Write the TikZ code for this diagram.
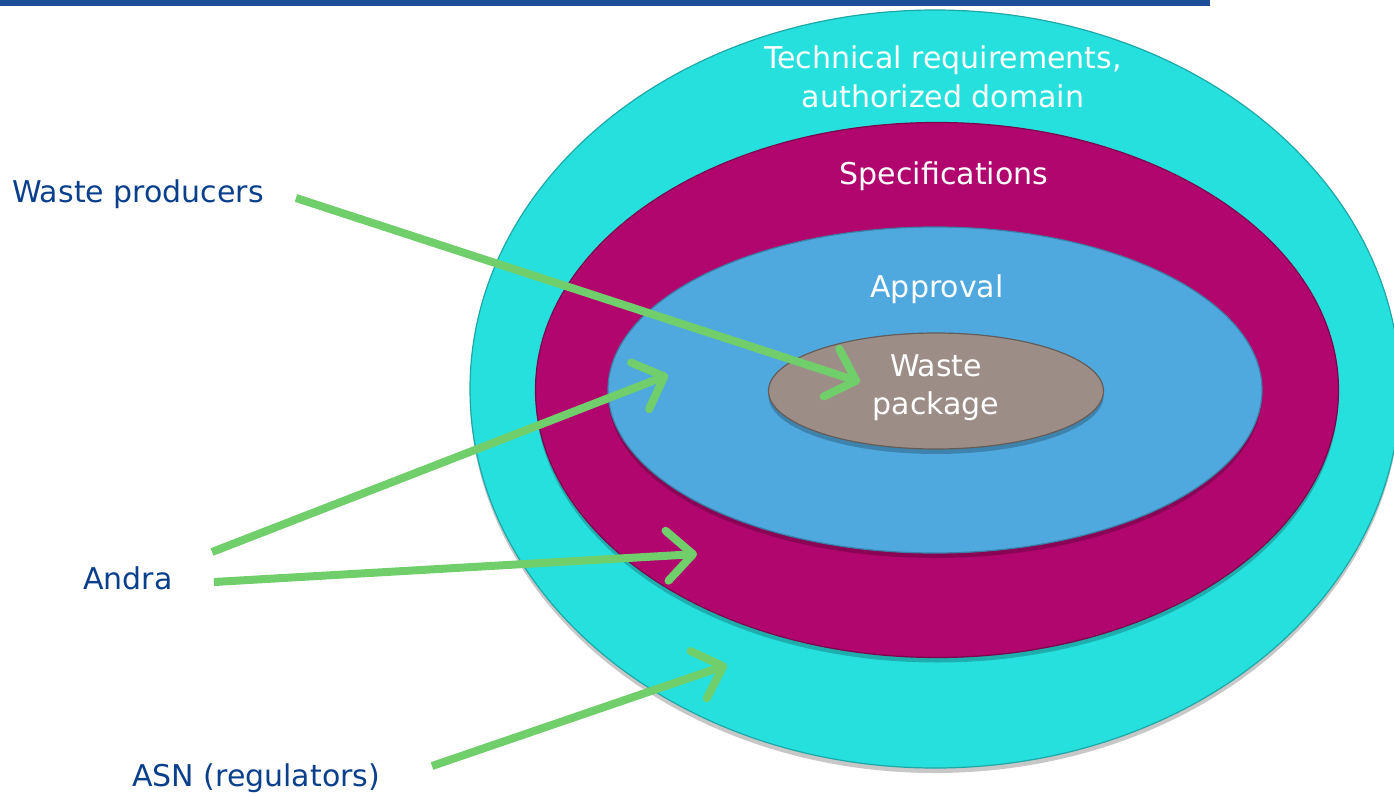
\documentclass[tikz,border=0pt]{standalone}
\usepackage{fontspec}
\setmainfont{DejaVu Sans}
\usetikzlibrary{arrows.meta,shapes.geometric,shadows}

\definecolor{barblue}{RGB}{30,78,152}
\definecolor{ringcyan}{RGB}{38,224,222}
\definecolor{ringmagenta}{RGB}{176,6,110}
\definecolor{ringblue}{RGB}{79,169,222}
\definecolor{coretaupe}{RGB}{156,142,135}
\definecolor{arrowgreen}{RGB}{112,207,106}
\definecolor{labelblue}{RGB}{10,63,140}

\tikzset{
  ring/.style={ellipse, inner sep=0pt, outer sep=0pt, line width=1.2pt,
    drop shadow={shadow xshift=0pt, shadow yshift=-5pt, opacity=.22, fill=black}},
  ringtext/.style={text=white, align=center, font=\fontsize{30}{39}\selectfont},
  actor/.style={text=labelblue, anchor=west, inner sep=0pt, font=\fontsize{30}{36}\selectfont},
  flow/.style={draw=arrowgreen, line width=8pt,
    -{Straight Barb[length=26pt,width=50pt,line cap=round,line join=round]}}
}

\begin{document}
\begin{tikzpicture}[x=1pt,y=-1pt]
  \useasboundingbox (0,0) rectangle (1394,795);
  \clip (0,0) rectangle (1394,795);

  % header rule
  \fill[barblue] (0,0) rectangle (1210,6);

  % nested domains
  \node[ring, fill=ringcyan, draw=ringcyan!75!black,
        minimum width=930pt, minimum height=758pt] (tech) at (935,389) {};
  \node[ring, fill=ringmagenta, draw=ringmagenta!70!black,
        minimum width=803pt, minimum height=535pt] (spec) at (937,390) {};
  \node[ring, fill=ringblue, draw=ringblue!75!black,
        minimum width=654pt, minimum height=326pt] (appr) at (935,390) {};
  \node[ring, fill=coretaupe, draw=coretaupe!65!black,
        minimum width=335pt, minimum height=116pt] (core) at (936,391) {};

  % domain captions
  \node[ringtext] (techlbl) at (943,77) {Technical requirements,\\authorized domain};
  \node[ringtext] (speclbl) at (944,176) {Specifications};
  \node[ringtext] (apprlbl) at (937,289) {Approval};
  \node[ringtext, font=\fontsize{30}{38}\selectfont] (corelbl) at (936,388) {Waste\\package};

  % actors
  \node[actor] (wp) at (12,194) {Waste producers};
  \node[actor] (andra) at (83,578) {Andra};
  \node[actor] (asn) at (132,778) {ASN (regulators)};

  % arrow starts and targets
  \coordinate (wpout) at (296,198);
  \coordinate (andraup) at (212,552);
  \coordinate (andralow) at (214,582);
  \coordinate (asnout) at (432,766);
  \coordinate (tipcore) at (860,382);
  \coordinate (tipappr) at (668,375);
  \coordinate (tipspec) at (697,554);
  \coordinate (tiptech) at (727,665);

  \draw[flow] (wpout) -- (tipcore);
  \draw[flow] (andraup) -- (tipappr);
  \draw[flow] (andralow) -- (tipspec);
  \draw[flow] (asnout) -- (tiptech);
\end{tikzpicture}
\end{document}
